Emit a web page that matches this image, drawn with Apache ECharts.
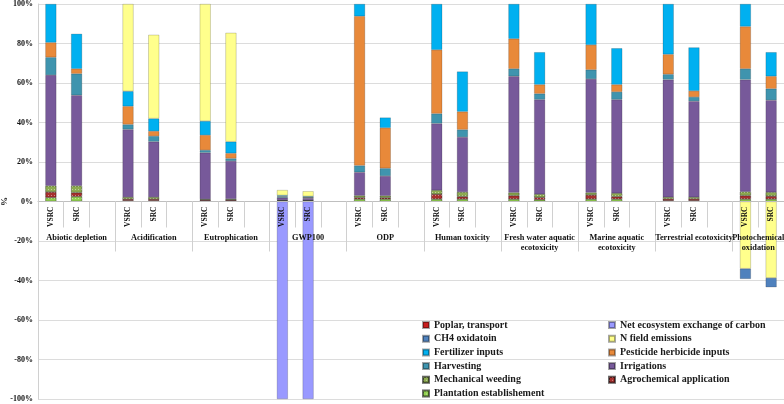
<!DOCTYPE html>
<html><head><meta charset="utf-8">
<script src="https://cdn.jsdelivr.net/npm/echarts@6/dist/echarts.min.js"></script>
<style>html,body{margin:0;padding:0;background:#fff}#c{width:784px;height:404px}</style>
</head><body><div id="c"></div>
<script>
// Impact categories (groups); each has a VSRC and an SRC bar, groups separated by an empty slot
const groups = ['Abiotic depletion', 'Acidification', 'Eutrophication', 'GWP100', 'ODP',
  'Human toxicity', 'Fresh water aquatic\necotoxicity', 'Marine aquatic\necotoxicity',
  'Terrestrial ecotoxicity', 'Photochemical\noxidation'];
const barNames = ['VSRC', 'SRC'];
const yTickLabels = ['-100%', '-80%', '-60%', '-40%', '-20%', '0%', '20%', '40%', '60%', '80%', '100%'];

// values in %, pairs (VSRC, SRC) per group in the order of `groups`
const plantation   = [2.0, 2.5,  0.4, 0.4,  0.3, 0.3,  0.2, 0.2,  1.2, 1.2,  1.2, 1.2,  1.2, 0.9,  1.2, 1.2,  0.4, 0.4,  1.2, 1.2];
const agrochemical = [2.8, 2.0,  0.8, 0.8,  0.5, 0.5,  0.2, 0.2,  0.8, 0.7,  2.5, 1.3,  1.8, 1.2,  2.1, 1.3,  0.9, 0.9,  1.8, 1.5];
const mechanical   = [3.2, 3.5,  1.0, 1.0,  0.4, 0.5,  0.3, 0.3,  1.0, 1.0,  2.0, 2.3,  1.5, 1.6,  1.2, 1.7,  0.9, 0.9,  2.0, 2.0];
const irrigations  = [56.0, 45.8, 34.3, 28.1, 23.5, 19.2, 1.2, 1.0, 11.8, 10.0, 33.8, 27.8, 58.9, 47.9, 57.5, 47.4, 59.5, 48.6, 56.7, 46.6];
const harvesting   = [9.0, 10.9, 2.5, 2.8,  1.3, 1.3,  0.5, 0.4,  3.4, 3.9,  5.0, 3.8,  3.8, 3.0,  4.7, 3.9,  2.7, 2.1,  5.5, 5.8];
const pesticide    = [7.5, 2.5,  9.2, 2.5,  7.6, 2.6,  0.2, 0.1,  75.6, 20.5, 32.3, 9.1, 15.2, 4.6, 12.6, 3.7, 10.1, 3.1, 21.4, 6.3];
const fertilizer   = [19.5, 17.7, 7.6, 6.4, 7.1, 5.9,  0.5, 0.4,  6.2, 5.2,  23.2, 20.3, 17.6, 16.4, 20.7, 18.4, 25.5, 22.0, 11.4, 12.2];
const nField       = [0, 0,  44.2, 42.4,  59.3, 55.1,  2.7, 2.6,  0, 0,  0, 0,  0, 0,  0, 0,  0, 0,  -34.0, -38.7];
const ch4          = [0, 0,  0, 0,  0, 0,  0, 0,  0, 0,  0, 0,  0, 0,  0, 0,  0, 0,  -5.2, -4.7];
const nee          = [0, 0,  0, 0,  0, 0,  -100, -100,  0, 0,  0, 0,  0, 0,  0, 0,  0, 0,  0, 0];
const poplar       = [0, 0,  0, 0,  0, 0,  0, 0,  0, 0,  0, 0,  0, 0,  0, 0,  0, 0,  0, 0];

const seriesDefs = [
  ['Plantation establishement', plantation, '#92D050', true],
  ['Agrochemical application', agrochemical, '#A8302E', true],
  ['Mechanical weeding', mechanical, '#8DAB50', true],
  ['Irrigations', irrigations, '#77599A', false],
  ['Harvesting', harvesting, '#3F94AE', false],
  ['Pesticide herbicide inputs', pesticide, '#E8893A', false],
  ['Fertilizer inputs', fertilizer, '#00B0F0', false],
  ['N field emissions', nField, '#FFFF8C', false],
  ['CH4 oxidatoin', ch4, '#4F81BD', false],
  ['Net ecosystem exchange of carbon', nee, '#9999FF', false],
  ['Poplar, transport', poplar, '#C81E1E', false]
];
const legendLeft = ['Poplar, transport', 'CH4 oxidatoin', 'Fertilizer inputs', 'Harvesting', 'Mechanical weeding', 'Plantation establishement'];
const legendRight = ['Net ecosystem exchange of carbon', 'N field emissions', 'Pesticide herbicide inputs', 'Irrigations', 'Agrochemical application'];

// slot categories: VSRC, SRC (+ spacer between groups)
const slots = [];
const groupStart = [];
groups.forEach((g, i) => {
  groupStart.push(slots.length);
  slots.push(barNames[0], barNames[1]);
  if (i < groups.length - 1) slots.push('');
});
const nSlots = slots.length;
function toSlots(arr) {
  const out = [];
  groups.forEach((g, i) => {
    out.push(arr[2 * i] === 0 ? null : arr[2 * i], arr[2 * i + 1] === 0 ? null : arr[2 * i + 1]);
    if (i < groups.length - 1) out.push(null);
  });
  return out;
}
// group-label axis on half-slot points (boundaryGap false): points 0..2*nSlots
const halfPts = new Array(2 * nSlots + 1).fill('');
const groupBoundary = new Set([0, 2 * nSlots]);
groups.forEach((g, i) => {
  const start = groupStart[i];
  const end = (i < groups.length - 1) ? groupStart[i + 1] : nSlots;
  halfPts[start + end] = g;           // centre of group, in half-slot units
  groupBoundary.add(2 * start);
});

const FONT = 'Liberation Serif';
const chart = echarts.init(document.getElementById('c'), null, { renderer: 'canvas' });
const legendText = { fontFamily: FONT, fontWeight: 'bold', fontSize: 10, color: '#1a1a1a' };
const option = {
  animation: false,
  backgroundColor: '#fff',
  grid: { left: 38, top: 4, bottom: 5, right: 0, containLabel: false, outerBoundsMode: 'none' },
  xAxis: [{
    type: 'category', data: slots, position: 'bottom', offset: 0, z: 10,
    axisLine: { onZero: false, lineStyle: { color: '#bfbfbf', width: 1 } },
    axisTick: { show: true, interval: 0, length: 26, lineStyle: { color: '#d0d0d0' } },
    axisLabel: { interval: 0, rotate: 90, margin: 5, fontFamily: FONT, fontWeight: 'bold', fontSize: 7.5, color: '#111' },
    splitLine: { show: false }
  }, {
    type: 'category', data: halfPts, boundaryGap: false, position: 'bottom', offset: 0, z: 10,
    axisLine: { show: false, onZero: false },
    axisTick: { show: true, interval: (idx) => groupBoundary.has(idx), length: 50, lineStyle: { color: '#d0d0d0' } },
    axisLabel: { interval: 0, margin: 31, fontFamily: FONT, fontWeight: 'bold', fontSize: 8.3, lineHeight: 10, color: '#111', hideOverlap: false },
    splitLine: { show: false }
  }],
  yAxis: [{
    type: 'value', min: -100, max: 100, interval: 20,
    name: '%', nameLocation: 'middle', nameGap: 29, nameRotate: 90, nameMoveOverlap: false,
    nameTextStyle: { fontFamily: FONT, fontWeight: 'bold', fontSize: 9, color: '#111' },
    axisLine: { show: true, onZero: false, lineStyle: { color: '#d0d0d0' } },
    axisTick: { show: false },
    axisLabel: { margin: 5, fontFamily: FONT, fontWeight: 'bold', fontSize: 8, color: '#111',
      formatter: (v) => yTickLabels[Math.round((v + 100) / 20)] },
    splitLine: { show: true, lineStyle: { color: '#dcdcdc', width: 1 } }
  }],
  legend: [{
    orient: 'vertical', left: 417, top: 315, itemWidth: 6, itemHeight: 6, itemGap: 3.7,
    icon: 'rect', data: legendLeft, textStyle: legendText, selectedMode: false
  }, {
    orient: 'vertical', left: 603, top: 315, itemWidth: 6, itemHeight: 6, itemGap: 3.7,
    icon: 'rect', data: legendRight, textStyle: legendText, selectedMode: false
  }],
  series: seriesDefs.map(([name, arr, color, dotted]) => ({
    name, type: 'bar', stack: 'total', xAxisIndex: 0, yAxisIndex: 0,
    barWidth: 11, data: toSlots(arr),
    itemStyle: Object.assign({ color, borderColor: 'rgba(0,0,0,0.35)', borderWidth: 0.5 },
      dotted ? { decal: { symbol: 'rect', symbolSize: 1, color: 'rgba(255,255,255,0.45)', dashArrayX: [1, 2], dashArrayY: [1, 2], rotation: 0 } } : {}),
    emphasis: { disabled: true }
  }))
};
chart.setOption(option);
// move both category axes up to the value-axis zero line
const zeroY = chart.convertToPixel({ yAxisIndex: 0 }, 0);
const bottomY = chart.convertToPixel({ yAxisIndex: 0 }, -100);
const off = zeroY - bottomY;
chart.setOption({ xAxis: [{ offset: off }, { offset: off }] });
</script>
</body></html>
